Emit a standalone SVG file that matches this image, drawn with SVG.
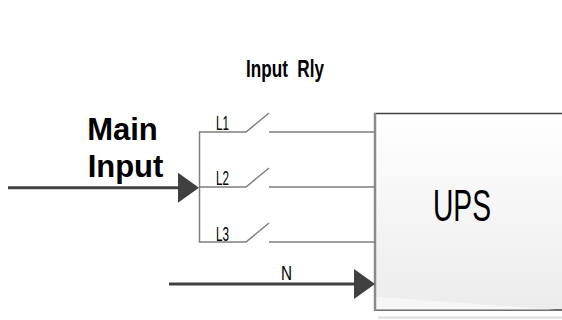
<svg xmlns="http://www.w3.org/2000/svg" width="562" height="320" viewBox="0 0 562 320">
<style>
.wire{fill:none;stroke:#7f7f7f;stroke-width:1.5}
.feed{fill:none;stroke:#404040;stroke-width:3;marker-end:url(#arrow)}
.lbl{font-family:"Liberation Sans",Arial,sans-serif;fill:#000}
.narrow{font-family:"Liberation Sans",Arial,sans-serif;fill:#000}
</style>
<defs>
<linearGradient id="boxfill" x1="0" y1="0" x2="0" y2="1">
<stop offset="0" stop-color="#ffffff"/>
<stop offset="1" stop-color="#ececec"/>
</linearGradient>
<marker id="arrow" markerUnits="userSpaceOnUse" markerWidth="22" markerHeight="30" refX="0" refY="15" orient="auto" viewBox="0 0 22 30">
<path d="M0,0 L21,15 L0,30 Z" fill="#404040"/>
</marker>
</defs>
<rect width="562" height="320" fill="#ffffff"/>
<g id="ups">
<line x1="378" y1="317.5" x2="562" y2="317.5" stroke="#dcdcdc" stroke-width="2"/>
<rect x="375" y="113.5" width="200" height="196.5" fill="url(#boxfill)" stroke="#404040" stroke-width="1.5"/>
<polygon points="376,296.7 555,309.5 376,309.5" fill="#f6f6f6"/>
<line x1="375" y1="113" x2="375" y2="310.5" stroke="#8a8a8a" stroke-width="2.5"/>
<text class="narrow" x="462" y="220.5" font-size="45" text-anchor="middle" textLength="58" lengthAdjust="spacingAndGlyphs">UPS</text>
</g>
<g id="main-input">
<text class="lbl" x="122.5" y="140" font-size="31" font-weight="bold" text-anchor="middle">Main</text>
<text class="lbl" x="125.5" y="176.5" font-size="31" font-weight="bold" text-anchor="middle">Input</text>
</g>
<g id="input-rly">
<text class="narrow" x="246" y="77" font-size="24" font-weight="bold" textLength="78" lengthAdjust="spacingAndGlyphs" xml:space="preserve">Input  Rly</text>
</g>
<g id="relay-l1">
<text class="narrow" x="216" y="129.5" font-size="21" textLength="13" lengthAdjust="spacingAndGlyphs">L1</text>
</g>
<g id="relay-l2">
<text class="narrow" x="216" y="185" font-size="21" textLength="13" lengthAdjust="spacingAndGlyphs">L2</text>
</g>
<g id="relay-l3">
<text class="narrow" x="216" y="241" font-size="21" textLength="13" lengthAdjust="spacingAndGlyphs">L3</text>
</g>
<g id="neutral">
<text class="narrow" x="281" y="279.5" font-size="21" textLength="11" lengthAdjust="spacingAndGlyphs">N</text>
</g>
<g id="connectors">
<line class="wire" x1="199.5" y1="131.3" x2="199.5" y2="242.7"/>
<path class="wire" d="M199.5,132 H246 L269,113 M269,132 H375"/>
<path class="wire" d="M199.5,187 H246 L269,168 M269,187 H375"/>
<path class="wire" d="M199.5,242 H246 L269,223 M269,242 H375"/>
<line class="feed" x1="8" y1="187.7" x2="178" y2="187.7"/>
<line class="feed" x1="169" y1="284" x2="354" y2="284"/>
</g>
</svg>
